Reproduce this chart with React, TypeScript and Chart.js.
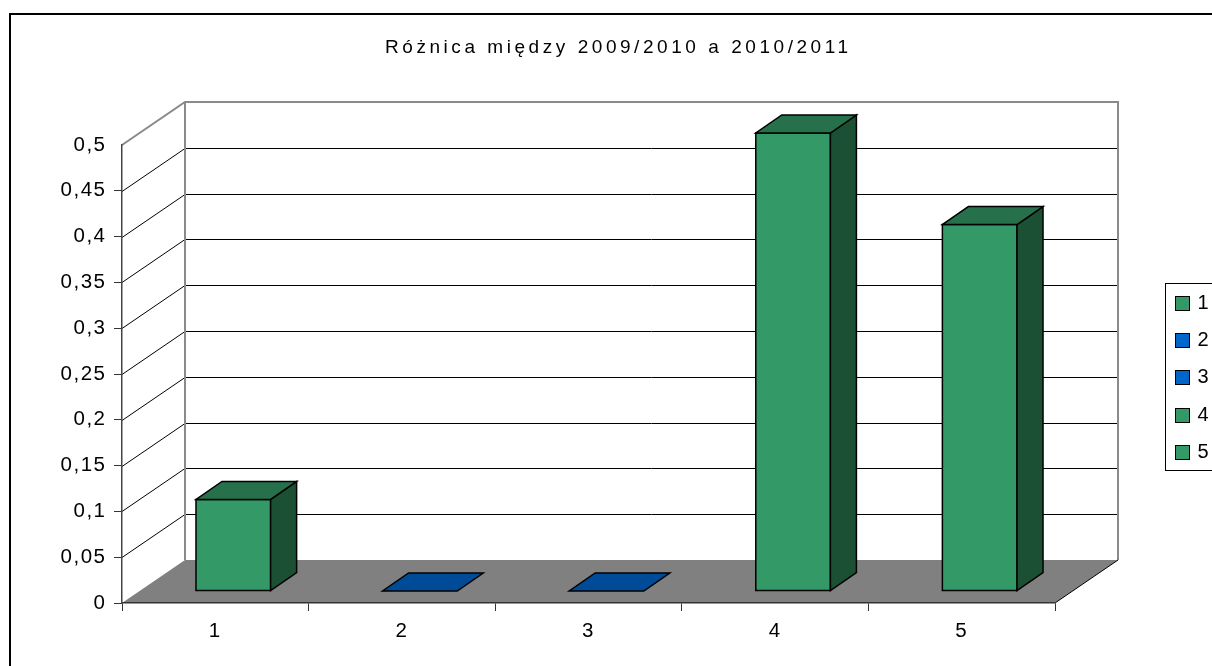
import React, { useEffect, useRef } from "react";
import { Chart, registerables } from "chart.js";

Chart.register(...registerables);

// ---------- data ----------
const TITLE = "Różnica między 2009/2010 a 2010/2011";
const categories = ["1", "2", "3", "4", "5"];
const values = [0.1, 0, 0, 0.5, 0.4];
const barColors = ["#339966", "#0066CC", "#0066CC", "#339966", "#339966"];
const legendLabels = ["1", "2", "3", "4", "5"];
const Y_MIN = 0;
const Y_MAX = 0.5;
const Y_STEP = 0.05;

// ---------- styles ----------
const FONT = "'Liberation Sans', Arial, Helvetica, sans-serif";
const TICK_SIZE = 20.5;
const WALL_DX = 63;
const WALL_DY = -43;
const BAR_OX = 18;
const BAR_OY = -12;
const BAR_DX = 26;
const BAR_DY = -18;

function shade(hex: string, f: number) {
  const n = parseInt(hex.slice(1), 16);
  const r = Math.round(((n >> 16) & 255) * f);
  const g = Math.round(((n >> 8) & 255) * f);
  const b = Math.round((n & 255) * f);
  return `rgb(${r},${g},${b})`;
}

function fmt(v: number) {
  const r = Math.round(v * 100) / 100;
  return String(r).replace(".", ",");
}

function poly(ctx: CanvasRenderingContext2D, pts: number[][]) {
  ctx.beginPath();
  ctx.moveTo(pts[0][0], pts[0][1]);
  for (let i = 1; i < pts.length; i++) ctx.lineTo(pts[i][0], pts[i][1]);
  ctx.closePath();
}

const excel3d = {
  id: "excel3d",
  beforeDraw(chart: any) {
    const ctx: CanvasRenderingContext2D = chart.ctx;
    const a = chart.chartArea;
    const y = chart.scales.y;
    const L = a.left;
    const R = a.right;
    const T = y.getPixelForValue(Y_MAX);
    const B = y.getPixelForValue(Y_MIN);
    ctx.save();
    ctx.fillStyle = "#fff";
    ctx.fillRect(0, 0, chart.width, chart.height);

    // outer frame
    ctx.strokeStyle = "#000";
    ctx.lineWidth = 2;
    ctx.strokeRect(10, 14, chart.width + 40, chart.height + 40);

    // title
    ctx.font = `19px ${FONT}`;
    (ctx as any).letterSpacing = "0px";
    const w0 = ctx.measureText(TITLE).width;
    const n = Array.from(TITLE).length;
    const titleLeft = 385;
    const titleRight = 848;
    const sp = (titleRight - titleLeft - w0) / (n - 1);
    (ctx as any).letterSpacing = `${sp}px`;
    ctx.fillStyle = "#000";
    ctx.textAlign = "left";
    ctx.textBaseline = "alphabetic";
    ctx.fillText(TITLE, titleLeft, 53);
    (ctx as any).letterSpacing = "0px";

    // side wall + back wall
    ctx.fillStyle = "#fff";
    poly(ctx, [[L, T], [L + WALL_DX, T + WALL_DY], [L + WALL_DX, B + WALL_DY], [L, B]]);
    ctx.fill();
    // floor
    ctx.fillStyle = "#808080";
    poly(ctx, [[L, B], [R, B], [R + WALL_DX, B + WALL_DY], [L + WALL_DX, B + WALL_DY]]);
    ctx.fill();

    // gridlines
    ctx.strokeStyle = "#000";
    ctx.lineWidth = 1;
    ctx.beginPath();
    y.ticks.forEach((t: any) => {
      if (t.value <= Y_MIN + 1e-9 || t.value >= Y_MAX - 1e-9) return;
      const py = Math.round(y.getPixelForValue(t.value)) + 0.5;
      ctx.moveTo(L, py);
      ctx.lineTo(L + WALL_DX, py + WALL_DY);
      ctx.lineTo(R + WALL_DX, py + WALL_DY);
    });
    ctx.stroke();

    // wall edges
    ctx.strokeStyle = "#8a8a8a";
    ctx.lineWidth = 2;
    ctx.beginPath();
    ctx.moveTo(L, T);
    ctx.lineTo(L + WALL_DX, T + WALL_DY);
    ctx.lineTo(R + WALL_DX, T + WALL_DY);
    ctx.lineTo(R + WALL_DX, B + WALL_DY);
    ctx.moveTo(L + WALL_DX, T + WALL_DY);
    ctx.lineTo(L + WALL_DX, B + WALL_DY);
    ctx.stroke();

    // floor right edge
    ctx.strokeStyle = "#000";
    ctx.lineWidth = 1;
    ctx.beginPath();
    ctx.moveTo(R, B);
    ctx.lineTo(R + WALL_DX, B + WALL_DY);
    ctx.stroke();
    ctx.restore();

    (ctx as any).letterSpacing = "1.5px";
  },
  beforeDatasetDraw() {
    return false;
  },
  afterDatasetsDraw(chart: any) {
    const ctx: CanvasRenderingContext2D = chart.ctx;
    const meta = chart.getDatasetMeta(0);
    const colors = chart.data.datasets[0].backgroundColor as string[];
    ctx.save();
    ctx.lineWidth = 1.5;
    ctx.strokeStyle = "#000";
    ctx.lineJoin = "miter";
    meta.data.forEach((el: any, i: number) => {
      const p = el.getProps(["x", "y", "base", "width"], true);
      const xl = p.x - p.width / 2 + BAR_OX;
      const xr = p.x + p.width / 2 + BAR_OX;
      const yt = p.y + BAR_OY;
      const yb = p.base + BAR_OY;
      const c = colors[i];
      if (yb - yt > 0.5) {
        ctx.fillStyle = c;
        poly(ctx, [[xl, yt], [xr, yt], [xr, yb], [xl, yb]]);
        ctx.fill();
        ctx.stroke();
        ctx.fillStyle = shade(c, 0.52);
        poly(ctx, [[xr, yt], [xr + BAR_DX, yt + BAR_DY], [xr + BAR_DX, yb + BAR_DY], [xr, yb]]);
        ctx.fill();
        ctx.stroke();
      }
      ctx.fillStyle = shade(c, 0.74);
      poly(ctx, [[xl, yt], [xr, yt], [xr + BAR_DX, yt + BAR_DY], [xl + BAR_DX, yt + BAR_DY]]);
      ctx.fill();
      ctx.stroke();
    });
    ctx.restore();
  },
  afterDraw(chart: any) {
    const ctx: CanvasRenderingContext2D = chart.ctx;
    ctx.save();
    (ctx as any).letterSpacing = "0px";
    const bx = 1165.5;
    const by = 283.5;
    ctx.fillStyle = "#fff";
    ctx.fillRect(bx, by, 80, 187);
    ctx.strokeStyle = "#000";
    ctx.lineWidth = 1;
    ctx.strokeRect(bx, by, 80, 187);
    ctx.font = `20px ${FONT}`;
    ctx.textAlign = "left";
    ctx.textBaseline = "middle";
    legendLabels.forEach((lab, i) => {
      const yc = 303 + i * 37.2;
      const sy = Math.round(yc - 7) + 0.5;
      ctx.fillStyle = barColors[i];
      ctx.fillRect(1175.5, sy, 14, 14);
      ctx.strokeRect(1175.5, sy, 14, 14);
      ctx.fillStyle = "#000";
      ctx.fillText(lab, 1197.5, yc + 0.5);
    });
    ctx.restore();
  },
};

export default function App() {
  const ref = useRef<HTMLCanvasElement>(null);
  useEffect(() => {
    const tickColor = (c: any) =>
      c.tick && c.tick.value >= Y_MAX - 1e-9 ? "rgba(0,0,0,0)" : "#333";
    const chart = new Chart(ref.current as HTMLCanvasElement, {
      type: "bar",
      data: {
        labels: categories,
        datasets: [
          {
            label: "Różnica",
            data: values,
            backgroundColor: barColors,
            categoryPercentage: 1,
            barPercentage: 0.4,
          },
        ],
      },
      plugins: [excel3d as any],
      options: {
        responsive: false,
        animation: false,
        devicePixelRatio: 1,
        layout: { padding: { left: 0, right: 157, top: 145, bottom: 0 } },
        plugins: {
          legend: { display: false },
          title: { display: false },
          tooltip: { enabled: false },
        },
        scales: {
          x: {
            type: "category",
            offset: true,
            afterFit: (s: any) => {
              s.height = 63;
            },
            grid: {
              offset: true,
              drawOnChartArea: false,
              drawTicks: true,
              tickLength: 8,
              color: "#333",
            },
            border: { display: true, color: "#333", width: 1.5 },
            ticks: {
              color: "#000",
              font: { family: FONT, size: TICK_SIZE },
              padding: 8,
              maxRotation: 0,
            },
          },
          y: {
            type: "linear",
            min: Y_MIN,
            max: Y_MAX,
            afterFit: (s: any) => {
              s.width = 122;
            },
            grid: {
              drawOnChartArea: false,
              drawTicks: true,
              tickLength: 8,
              color: tickColor,
            },
            border: { display: true, color: "#444", width: 1.5 },
            ticks: {
              stepSize: Y_STEP,
              color: "#000",
              font: { family: FONT, size: TICK_SIZE },
              padding: 7.5,
              callback: (v: any) => fmt(Number(v)),
            },
          },
        },
      } as any,
    });
    return () => chart.destroy();
  }, []);
  return (
    <div style={{ position: "absolute", left: 0, top: 0, width: 1212, height: 666, overflow: "hidden" }}>
      <canvas ref={ref} width={1212} height={666} style={{ display: "block" }} />
    </div>
  );
}
